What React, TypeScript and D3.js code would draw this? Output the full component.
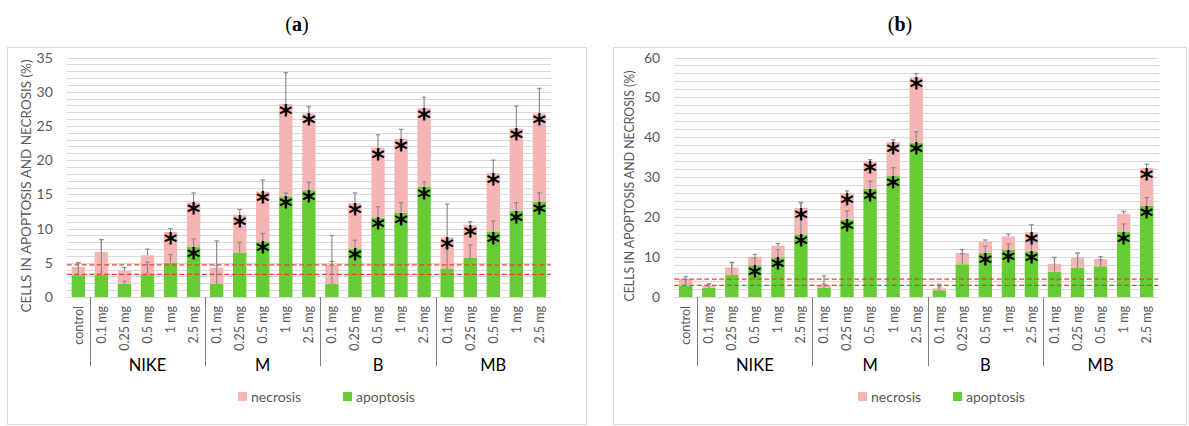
import React from "react";
import * as d3 from "d3";

// Category axis (shared by both panels)
const categories = [
  "control",
  "0.1 mg", "0.25 mg", "0.5 mg", "1 mg", "2.5 mg",
  "0.1 mg", "0.25 mg", "0.5 mg", "1 mg", "2.5 mg",
  "0.1 mg", "0.25 mg", "0.5 mg", "1 mg", "2.5 mg",
  "0.1 mg", "0.25 mg", "0.5 mg", "1 mg", "2.5 mg",
];
const groupNames = ["NIKE", "M", "B", "MB"];
const groupSize = 5;
const legendNames = ["necrosis", "apoptosis"];

// Panel (a)
const apoptosisA = [3.2, 3.3, 1.9, 3.3, 5.0, 7.3, 1.9, 6.5, 8.1, 14.7, 15.6, 1.9, 7.1, 11.6, 12.3, 16.1, 4.1, 5.7, 9.5, 12.6, 13.9];
const necrosisA = [1.2, 3.3, 1.9, 2.8, 4.5, 6.5, 2.4, 5.5, 7.3, 13.5, 11.2, 2.8, 6.6, 10.2, 10.8, 11.5, 4.6, 4.8, 8.6, 12.0, 12.9];
const apoptosisErrA = [1.8, 5.1, 0.4, 1.8, 1.2, 1.2, 6.3, 1.5, 1.2, 0.5, 1.2, 7.1, 1.2, 1.6, 1.5, 0.7, 3.1, 1.9, 1.6, 1.2, 1.3];
const necrosisErrA = [0.6, 1.8, 0.5, 0.9, 0.5, 1.4, 0.3, 0.8, 1.7, 4.6, 1.0, 0.5, 1.5, 1.9, 1.4, 1.6, 4.9, 0.5, 1.9, 3.3, 3.7];
const apoptosisStarA = [0, 0, 0, 0, 0, 1, 0, 0, 1, 1, 1, 0, 1, 1, 1, 1, 0, 0, 1, 1, 1];
const necrosisStarA = [0, 0, 0, 0, 1, 1, 0, 1, 1, 1, 1, 0, 1, 1, 1, 1, 1, 1, 1, 1, 1];
const controlLevelsA = [4.7, 3.3];
const yTicksA = [0, 5, 10, 15, 20, 25, 30, 35];

// Panel (b)
const apoptosisB = [2.8, 2.3, 5.5, 7.9, 9.9, 15.7, 2.4, 19.4, 27.1, 30.3, 38.7, 1.7, 8.2, 11.0, 11.8, 11.4, 6.3, 7.3, 7.7, 16.3, 22.8];
const necrosisB = [1.7, 0.5, 1.9, 2.2, 2.9, 6.6, 0.5, 6.5, 6.8, 8.5, 16.3, 0.5, 2.8, 2.9, 3.4, 4.8, 2.0, 2.6, 1.8, 4.5, 9.5];
const apoptosisErrB = [1.6, 1.0, 3.1, 1.9, 2.0, 7.9, 2.9, 2.2, 1.9, 2.1, 2.7, 1.5, 2.7, 1.7, 1.5, 2.6, 3.6, 3.7, 1.6, 2.0, 2.1];
const necrosisErrB = [0.6, 0.4, 1.3, 0.6, 0.6, 1.4, 0.3, 0.7, 0.5, 0.6, 1.0, 0.3, 0.9, 0.4, 0.6, 1.9, 1.6, 1.1, 0.6, 0.7, 1.0];
const apoptosisStarB = [0, 0, 0, 1, 1, 1, 0, 1, 1, 1, 1, 0, 0, 1, 1, 1, 0, 0, 0, 1, 1];
const necrosisStarB = [0, 0, 0, 0, 0, 1, 0, 1, 1, 1, 1, 0, 0, 0, 0, 1, 0, 0, 0, 0, 1];
const controlLevelsB = [4.5, 2.9];
const yTicksB = [0, 10, 20, 30, 40, 50, 60];

const GREEN = "#66cc33";
const PINK = "#f5b5b5";
const TEXT = "#595959";
const GRID = "#d9d9d9";
const FONT = "Lato, 'Open Sans', sans-serif";

type PanelProps = {
  letter: string;
  frame: [number, number]; // left/right of the panel frame
  plot: [number, number]; // left/right of plot area
  yMax: number;
  gridStep: number;
  yTicks: number[];
  apoptosis: number[];
  necrosis: number[];
  apoptosisErr: number[];
  necrosisErr: number[];
  apoptosisStar: number[];
  necrosisStar: number[];
  controlLevels: number[];
  titleCenter: number;
  titleLength: number;
  legendX: [number, number];
};

function Panel(p: PanelProps) {
  const top = 57.5;
  const zeroY = 297;
  const x = d3
    .scaleBand<number>()
    .domain(d3.range(categories.length))
    .range(p.plot)
    .paddingInner(0.42)
    .paddingOuter(0.21);
  const y = d3.scaleLinear().domain([0, p.yMax]).range([zeroY, top]);
  const grid = d3.range(p.gridStep, p.yMax + 0.001, p.gridStep);
  const step = x.step();
  const bw = x.bandwidth();
  const cx = (i: number) => (x(i) as number) + bw / 2;
  // left edge of the slot that holds category i
  const boundary = (i: number) => (x(0) as number) - (step - bw) / 2 + i * step;
  const cap = 2.2;
  const starSize = 26;

  const errorBar = (i: number, base: number, err: number, key: string) => {
    if (err <= 0) return null;
    const y0 = y(base);
    const y1 = y(base + err);
    return (
      <g key={key} stroke="#8c8c8c" strokeWidth={1.2}>
        <line x1={cx(i)} x2={cx(i)} y1={y0} y2={y1} />
        <line x1={cx(i) - cap} x2={cx(i) + cap} y1={y1} y2={y1} />
      </g>
    );
  };

  const star = (i: number, value: number, key: string) => (
    <text
      key={key}
      x={cx(i)}
      y={y(value) + 5.5 + starSize * 0.55}
      textAnchor="middle"
      fontFamily="'DejaVu Sans', sans-serif"
      fontWeight="bold"
      fontSize={starSize}
      fill="#000"
    >
      *
    </text>
  );

  const midFrame = (p.frame[0] + p.frame[1]) / 2;

  return (
    <g>
      <rect
        x={p.frame[0]}
        y={47.5}
        width={p.frame[1] - p.frame[0]}
        height={377}
        fill="#fff"
        stroke={GRID}
        strokeWidth={1}
      />
      <text x={midFrame} y={31} textAnchor="middle" fontFamily="'Liberation Serif', serif" fontSize={20} fill="#000">
        (<tspan fontWeight="bold">{p.letter}</tspan>)
      </text>

      {/* gridlines */}
      {grid.map((v) => (
        <line key={`g${v}`} x1={p.plot[0]} x2={p.plot[1]} y1={Math.round(y(v)) + 0.5} y2={Math.round(y(v)) + 0.5} stroke={GRID} strokeWidth={1} />
      ))}
      <line x1={p.plot[0]} x2={p.plot[1]} y1={zeroY + 0.5} y2={zeroY + 0.5} stroke={GRID} strokeWidth={1} />

      {/* y tick labels */}
      {p.yTicks.map((v) => (
        <text key={`t${v}`} x={p.plot[0] - 14} y={y(v)} dy="0.36em" textAnchor="end" fontFamily={FONT} fontSize={14} fill={TEXT}>
          {v}
        </text>
      ))}

      {/* y axis title */}
      <text
        transform={`translate(${p.titleCenter},${186}) rotate(-90)`}
        textAnchor="middle"
        dy="0.35em"
        fontFamily={FONT}
        fontSize={12.5}
        fill={TEXT}
        textLength={p.titleLength}
        lengthAdjust="spacingAndGlyphs"
      >
        CELLS IN APOPTOSIS AND NECROSIS (%)
      </text>

      {/* stacked bars */}
      {categories.map((_, i) => (
        <g key={`b${i}`}>
          <rect x={x(i)} width={bw} y={y(p.apoptosis[i])} height={zeroY - y(p.apoptosis[i])} fill={GREEN} />
          <rect
            x={x(i)}
            width={bw}
            y={y(p.apoptosis[i] + p.necrosis[i])}
            height={y(p.apoptosis[i]) - y(p.apoptosis[i] + p.necrosis[i])}
            fill={PINK}
          />
        </g>
      ))}

      {/* control reference levels */}
      {p.controlLevels.map((v, k) => (
        <line key={`c${k}`} x1={p.plot[0]} x2={p.plot[1]} y1={y(v)} y2={y(v)} stroke="#ea4335" strokeWidth={1.2} strokeDasharray="5,2.5" />
      ))}

      {/* error bars */}
      {categories.map((_, i) => errorBar(i, p.apoptosis[i], p.apoptosisErr[i], `ea${i}`))}
      {categories.map((_, i) => errorBar(i, p.apoptosis[i] + p.necrosis[i], p.necrosisErr[i], `en${i}`))}

      {/* significance marks */}
      {categories.map((_, i) => (p.apoptosisStar[i] ? star(i, p.apoptosis[i], `sa${i}`) : null))}
      {categories.map((_, i) => (p.necrosisStar[i] ? star(i, p.apoptosis[i] + p.necrosis[i], `sn${i}`) : null))}

      {/* category labels */}
      {categories.map((c, i) => (
        <text
          key={`l${i}`}
          transform={`translate(${cx(i)},306) rotate(-90)`}
          textAnchor="end"
          dy="0.35em"
          fontFamily={FONT}
          fontSize={12.5}
          fill={TEXT}
        >
          {c}
        </text>
      ))}

      {/* group separators and labels */}
      {groupNames.map((g, k) => {
        const first = 1 + k * groupSize;
        const xs = Math.round(boundary(first)) + 0.5;
        const xe = boundary(first + groupSize);
        return (
          <g key={`grp${g}`}>
            <line x1={xs} x2={xs} y1={zeroY} y2={366} stroke="#7f7f7f" strokeWidth={1} />
            <text x={(boundary(first) + xe) / 2} y={371} textAnchor="middle" fontFamily={FONT} fontSize={16.5} fill="#000">
              {g}
            </text>
          </g>
        );
      })}

      {/* legend */}
      {legendNames.map((name, k) => (
        <g key={`lg${name}`} transform={`translate(${p.legendX[k]},397)`}>
          <rect x={0} y={-5} width={9} height={9} fill={k === 0 ? PINK : GREEN} />
          <text x={13} y={0} dy="0.35em" fontFamily={FONT} fontSize={14} fill={TEXT}>
            {name}
          </text>
        </g>
      ))}
    </g>
  );
}

export default function App() {
  return (
    <svg
      width={1189}
      height={426}
      style={{ position: "absolute", left: 0, top: 0, background: "#fff" }}
    >
      <rect width={1189} height={426} fill="#fff" />
      <Panel
        letter="a"
        frame={[7.5, 586.5]}
        plot={[66.8, 550.9]}
        yMax={35}
        gridStep={1}
        yTicks={yTicksA}
        apoptosis={apoptosisA}
        necrosis={necrosisA}
        apoptosisErr={apoptosisErrA}
        necrosisErr={necrosisErrA}
        apoptosisStar={apoptosisStarA}
        necrosisStar={necrosisStarA}
        controlLevels={controlLevelsA}
        titleCenter={27}
        titleLength={253}
        legendX={[238, 343]}
      />
      <Panel
        letter="b"
        frame={[613.5, 1186.5]}
        plot={[674.2, 1158.2]}
        yMax={60}
        gridStep={2}
        yTicks={yTicksB}
        apoptosis={apoptosisB}
        necrosis={necrosisB}
        apoptosisErr={apoptosisErrB}
        necrosisErr={necrosisErrB}
        apoptosisStar={apoptosisStarB}
        necrosisStar={necrosisStarB}
        controlLevels={controlLevelsB}
        titleCenter={630}
        titleLength={231}
        legendX={[858, 953]}
      />
    </svg>
  );
}
